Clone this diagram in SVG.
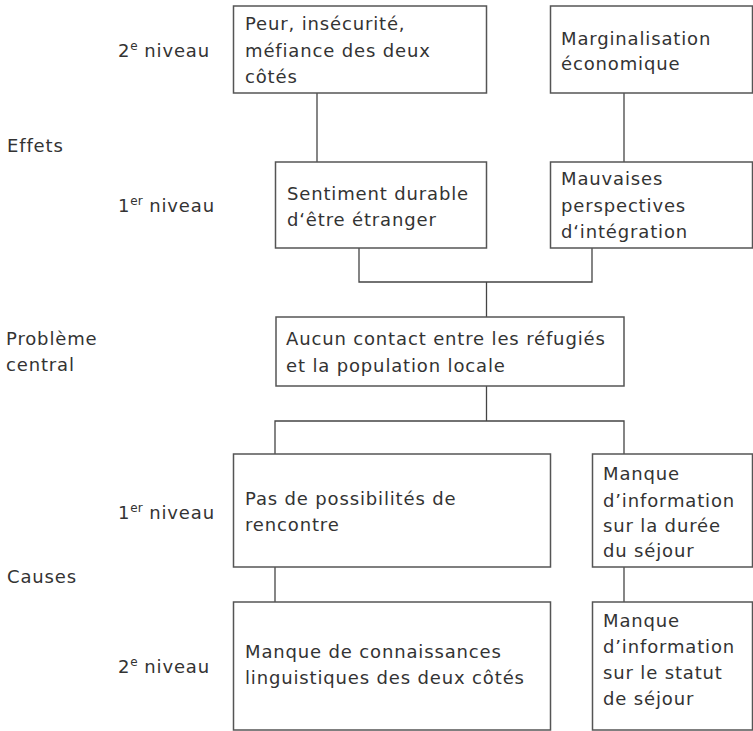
<svg xmlns="http://www.w3.org/2000/svg" width="753" height="731" viewBox="0 0 753 731">
<style>
text{font-family:"DejaVu Sans","Verdana",sans-serif;font-size:18px;letter-spacing:0.85px;fill:#333}
.sup{font-size:12px;letter-spacing:0}
rect{fill:#fff;stroke:#555;stroke-width:1.5}
.c line,.c path{stroke:#444;stroke-width:1.3;fill:none}
</style>
<rect x="0" y="0" width="753" height="731" style="stroke:none"/>
<g class="c" id="connectors">
<line x1="317" y1="93" x2="317" y2="162"/>
<line x1="624" y1="93" x2="624" y2="162"/>
<path d="M359 248V282H592V248"/>
<line x1="486.5" y1="282" x2="486.5" y2="317"/>
<line x1="486.5" y1="386" x2="486.5" y2="421"/>
<path d="M275 454V421H624V454"/>
<line x1="275" y1="567" x2="275" y2="602"/>
<line x1="624" y1="567" x2="624" y2="602"/>
</g>
<g id="labels">
<text x="118" y="57">2<tspan class="sup" dy="-7">e</tspan><tspan dy="7"> niveau</tspan></text>
<text x="7" y="152">Effets</text>
<text x="118" y="212">1<tspan class="sup" dy="-7">er</tspan><tspan dy="7"> niveau</tspan></text>
<text x="6" y="345">Problème</text>
<text x="6" y="371">central</text>
<text x="118" y="519">1<tspan class="sup" dy="-7">er</tspan><tspan dy="7"> niveau</tspan></text>
<text x="7" y="583">Causes</text>
<text x="118" y="673">2<tspan class="sup" dy="-7">e</tspan><tspan dy="7"> niveau</tspan></text>
</g>
<g id="n_peur">
<rect x="233.5" y="6" width="253" height="87"/>
<text x="245" y="30">Peur, insécurité,</text>
<text x="245" y="56.5">méfiance des deux</text>
<text x="245" y="83">côtés</text>
</g>
<g id="n_marg">
<rect x="550.5" y="6" width="202" height="87"/>
<text x="561" y="45">Marginalisation</text>
<text x="561" y="70">économique</text>
</g>
<g id="n_sentiment">
<rect x="275.5" y="162" width="211" height="86"/>
<text x="287" y="200">Sentiment durable</text>
<text x="287" y="226">d‘être étranger</text>
</g>
<g id="n_mauvaises">
<rect x="550.5" y="162" width="202" height="86"/>
<text x="561" y="185">Mauvaises</text>
<text x="561" y="211.5">perspectives</text>
<text x="561" y="238">d‘intégration</text>
</g>
<g id="n_central">
<rect x="276" y="317" width="348" height="69"/>
<text x="286" y="345">Aucun contact entre les réfugiés</text>
<text x="286" y="371.5">et la population locale</text>
</g>
<g id="n_pasde">
<rect x="233.5" y="454" width="317" height="113"/>
<text x="245" y="505">Pas de possibilités de</text>
<text x="245" y="531">rencontre</text>
</g>
<g id="n_info1">
<rect x="592.5" y="454" width="160" height="113"/>
<text x="603" y="480">Manque</text>
<text x="603" y="506.5">d’information</text>
<text x="603" y="532">sur la durée</text>
<text x="603" y="557">du séjour</text>
</g>
<g id="n_langue">
<rect x="233.5" y="602" width="317" height="128"/>
<text x="245" y="658">Manque de connaissances</text>
<text x="245" y="684">linguistiques des deux côtés</text>
</g>
<g id="n_info2">
<rect x="592.5" y="602" width="160" height="128"/>
<text x="603" y="627">Manque</text>
<text x="603" y="653">d’information</text>
<text x="603" y="678.5">sur le statut</text>
<text x="603" y="705">de séjour</text>
</g>
</svg>
